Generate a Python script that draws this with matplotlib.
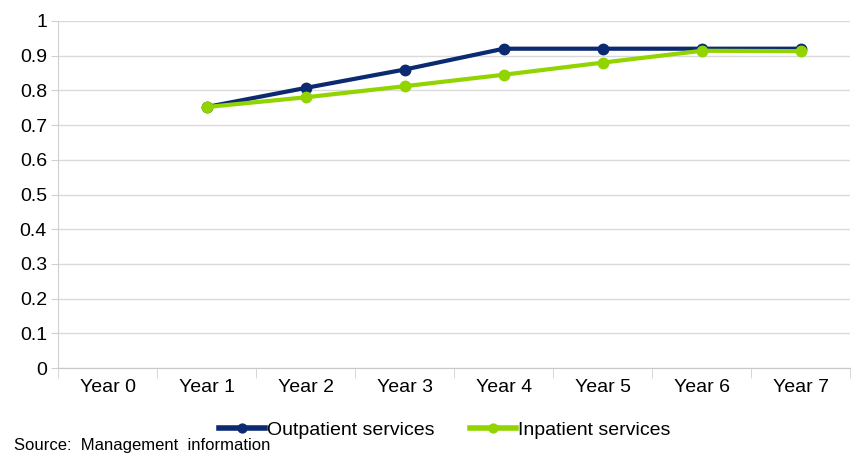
import matplotlib
matplotlib.use("Agg")
import matplotlib.pyplot as plt
import numpy as np

plt.rcParams['font.family'] = ['Liberation Sans', 'DejaVu Sans']

categories = ["Year 0", "Year 1", "Year 2", "Year 3", "Year 4", "Year 5", "Year 6", "Year 7"]
outpatient = [np.nan, 0.752, 0.807, 0.860, 0.920, 0.920, 0.920, 0.920]
inpatient = [np.nan, 0.752, 0.780, 0.812, 0.845, 0.880, 0.914, 0.913]
yticks = [0, 0.1, 0.2, 0.3, 0.4, 0.5, 0.6, 0.7, 0.8, 0.9, 1]
ytick_labels = ["0", "0.1", "0.2", "0.3", "0.4", "0.5", "0.6", "0.7", "0.8", "0.9", "1"]

navy = "#0B2A72"
green = "#92D400"

fig = plt.figure(figsize=(8.53, 4.55), dpi=100)
ax = fig.add_axes([0.068, 0.191, 0.929, 0.763])

x = np.arange(len(categories))
ax.plot(x, outpatient, color=navy, lw=3, marker='o', ms=7.5, label="Outpatient services", zorder=3)
ax.plot(x, inpatient, color=green, lw=3, marker='o', ms=7.5, label="Inpatient services", zorder=4)

ax.set_xlim(-0.5, len(categories) - 0.5)
ax.set_ylim(0, 1)
ax.set_yticks(yticks)
ax.set_yticklabels(ytick_labels)
ax.set_xticks(x)
ax.set_xticklabels(categories)
ax.tick_params(axis='x', length=0, pad=7.5, labelsize=14)
ax.tick_params(axis='y', length=5, color="#D0D0D0", pad=3, labelsize=14)
ax.set_xticks(np.arange(-0.5, len(categories), 1), minor=True)
ax.tick_params(axis='x', which='minor', length=7, color="#D0D0D0")
ax.grid(axis='y', color="#DADADA", lw=1)
ax.set_axisbelow(True)
for s in ["top", "right"]:
    ax.spines[s].set_visible(False)
ax.spines["left"].set_color("#D0D0D0")
ax.spines["bottom"].set_color("#C8C8C8")

leg = ax.legend(loc="center", bbox_to_anchor=(0.488, -0.178), ncol=2, frameon=False,
                fontsize=14, handlelength=2.4, handletextpad=0.1, columnspacing=1.8,
                markerscale=0.85, borderaxespad=0)
for h in leg.legend_handles:
    h.set_linewidth(4)

fig.text(0.016, 0.011, "Source:  Management  information", fontsize=12)

fig.savefig("out.png", dpi=100)
